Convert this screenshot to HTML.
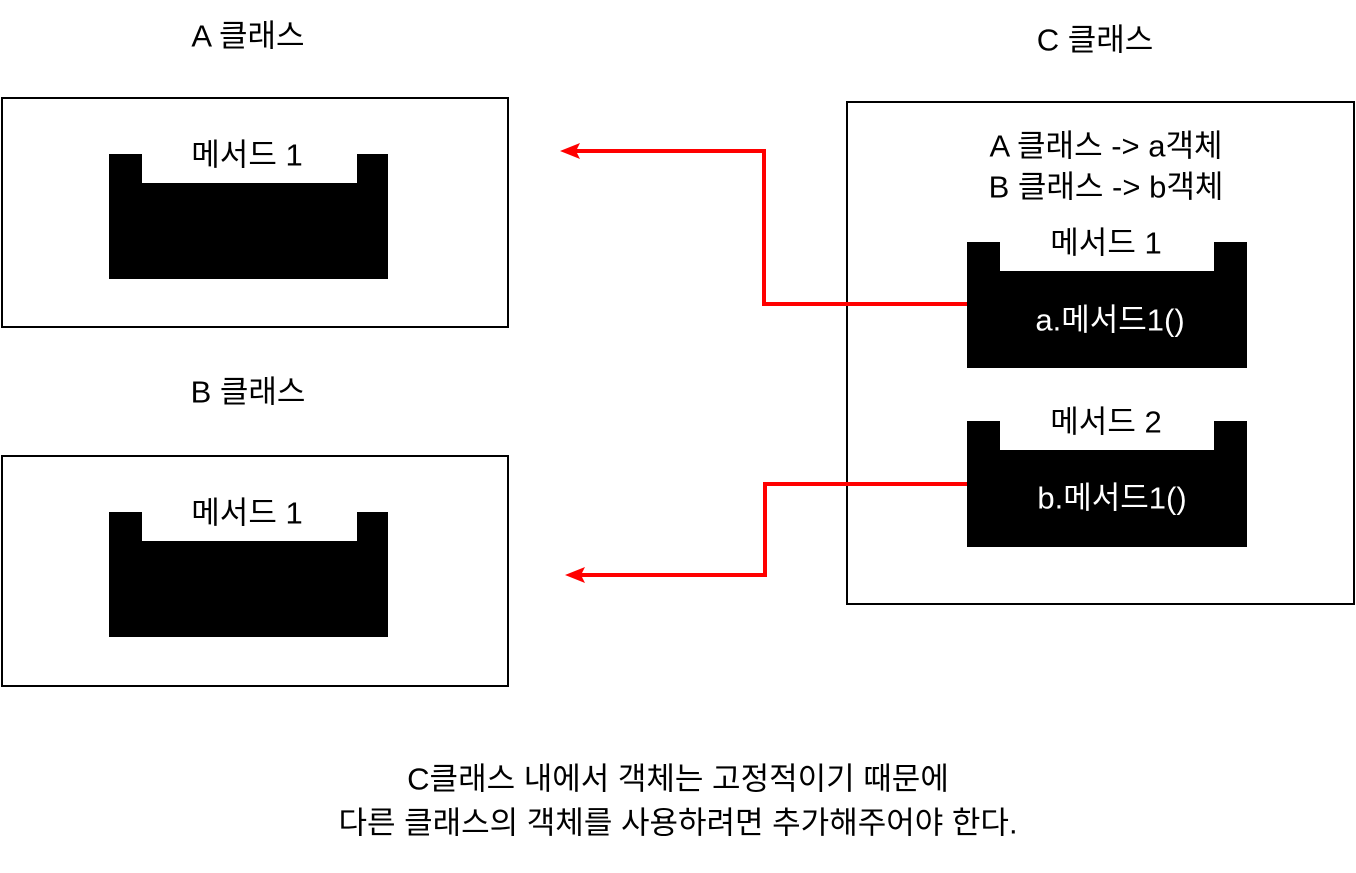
<!DOCTYPE html>
<html><head><meta charset="utf-8"><style>
body{margin:0;width:1356px;height:868px;background:#fff;overflow:hidden}
svg text{font-family:"Liberation Sans","Noto Sans CJK KR",sans-serif;font-size:31px;text-anchor:middle;dominant-baseline:central}
</style></head><body>
<svg width="1356" height="868" xmlns="http://www.w3.org/2000/svg">
<rect x="2" y="98" width="506" height="229" fill="none" stroke="#000" stroke-width="2"/>
<rect x="2" y="456" width="506" height="230" fill="none" stroke="#000" stroke-width="2"/>
<rect x="847" y="102" width="507" height="502" fill="none" stroke="#000" stroke-width="2"/>
<path d="M109 154H142V183H357V154H388V279H109Z"/>
<path d="M109 512H142V541H357V512H388V637H109Z"/>
<path d="M967 242H1000V271H1214V242H1247V368H967Z"/>
<path d="M967 421H1000V450H1214V421H1247V547H967Z"/>
<text x="248" y="36">A 클래스</text>
<text x="248" y="392">B 클래스</text>
<text x="1095" y="40">C 클래스</text>
<text x="247" y="155">메서드 1</text>
<text x="247" y="513">메서드 1</text>
<text x="1106" y="146">A 클래스 -&gt; a객체</text>
<text x="1106" y="187">B 클래스 -&gt; b객체</text>
<text x="1106" y="243">메서드 1</text>
<text x="1106" y="422">메서드 2</text>
<text x="1110" y="320" fill="#fff">a.메서드1()</text>
<text x="1112" y="498" fill="#fff">b.메서드1()</text>
<text x="678" y="779">C클래스 내에서 객체는 고정적이기 때문에</text>
<text x="678" y="823">다른 클래스의 객체를 사용하려면 추가해주어야 한다.</text>
<path d="M967 304H764V151H575" fill="none" stroke="#f00" stroke-width="4"/>
<path d="M560 151L580 143L576 151L580 159Z" fill="#f00"/>
<path d="M967 484H765V575H580" fill="none" stroke="#f00" stroke-width="4"/>
<path d="M565 575L585 567L581 575L585 583Z" fill="#f00"/>
</svg>
</body></html>
